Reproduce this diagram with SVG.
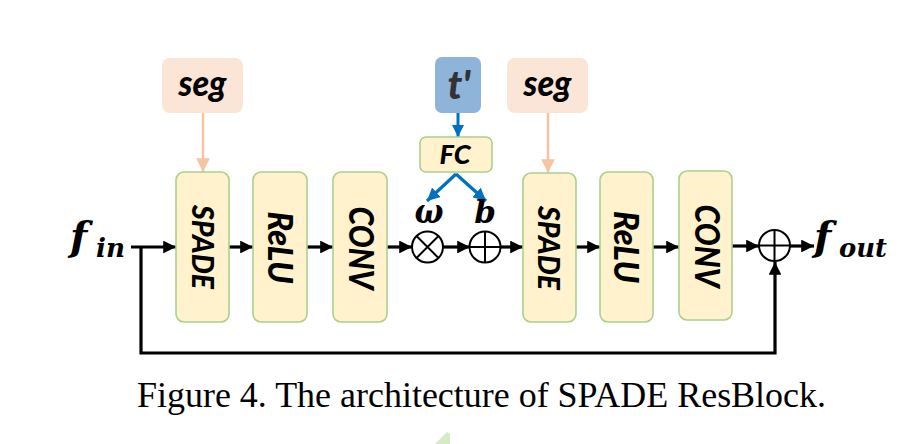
<svg xmlns="http://www.w3.org/2000/svg" width="913" height="444" viewBox="0 0 913 444">
<defs>
<style>
.blk{fill:#fff2cc;stroke:#a9d18e;stroke-width:1.6}
.seg{fill:#fbe5d6}
.lbl{font-family:Lato,"Open Sans","Noto Sans",sans-serif;font-weight:900;font-style:italic;fill:#000}
.ln{stroke:#000;stroke-width:3.2;fill:none}
.op{fill:#fff;stroke:#000;stroke-width:2}
</style>
<marker id="ah" viewBox="0 0 10 10" refX="10" refY="5" markerWidth="4" markerHeight="4" markerUnits="strokeWidth" orient="auto"><path d="M0,0 L10,5 L0,10 z" fill="#000"/></marker>
<marker id="ahb" viewBox="0 0 10 10" refX="10" refY="5" markerWidth="4" markerHeight="4" markerUnits="strokeWidth" orient="auto"><path d="M0,0 L10,5 L0,10 z" fill="#0070c0"/></marker>
<marker id="ahp" viewBox="0 0 10 10" refX="10" refY="5" markerWidth="6" markerHeight="5.5" markerUnits="strokeWidth" orient="auto"><path d="M0,0 L10,5 L0,10 z" fill="#f6c3a3"/></marker>
</defs>
<rect width="913" height="444" fill="#fff"/>

<g id="connectors">
<path class="ln" d="M131,247 H176" marker-end="url(#ah)"/>
<path class="ln" d="M229,247 H253" marker-end="url(#ah)"/>
<path class="ln" d="M307,247 H333" marker-end="url(#ah)"/>
<path class="ln" d="M387,247 H412" marker-end="url(#ah)"/>
<path class="ln" d="M443,247 H470" marker-end="url(#ah)"/>
<path class="ln" d="M500,247 H523" marker-end="url(#ah)"/>
<path class="ln" d="M576,247 H600" marker-end="url(#ah)"/>
<path class="ln" d="M653,247 H679" marker-end="url(#ah)"/>
<path class="ln" d="M732,246 H759" marker-end="url(#ah)"/>
<path class="ln" d="M790,246 H814" marker-end="url(#ah)"/>
<path class="ln" d="M141,247 V353 H775 V262" stroke-width="3.6" marker-end="url(#ah)"/>
<path d="M203,113 V172" stroke="#f6c3a3" stroke-width="2.5" fill="none" marker-end="url(#ahp)"/>
<path d="M548,113 V173" stroke="#f6c3a3" stroke-width="2.5" fill="none" marker-end="url(#ahp)"/>
<path d="M458,113 V137" stroke="#0070c0" stroke-width="3" fill="none" marker-end="url(#ahb)"/>
<path d="M456,174 L427,201" stroke="#0070c0" stroke-width="3.2" fill="none" marker-end="url(#ahb)"/>
<path d="M456,174 L486,201" stroke="#0070c0" stroke-width="3.2" fill="none" marker-end="url(#ahb)"/>
</g>

<g id="seg1"><rect class="seg" x="162" y="58" width="81" height="55" rx="8"/><text class="lbl" x="202.5" y="96" font-size="36" text-anchor="middle" textLength="48" lengthAdjust="spacingAndGlyphs">seg</text></g>
<g id="seg2"><rect class="seg" x="507" y="58" width="81" height="55" rx="8"/><text class="lbl" x="547.5" y="96" font-size="36" text-anchor="middle" textLength="48" lengthAdjust="spacingAndGlyphs">seg</text></g>
<g id="tprime"><rect x="435" y="57" width="46" height="56" rx="7" fill="#8eb4da"/><text class="lbl" x="459" y="99" font-size="40" text-anchor="middle" style="fill:#333">t'</text></g>
<g id="fc"><rect class="blk" x="420" y="137" width="72" height="35" rx="6"/><text class="lbl" x="455" y="164" font-size="27" text-anchor="middle" textLength="31" lengthAdjust="spacingAndGlyphs">FC</text></g>

<g id="spade1"><rect class="blk" x="176" y="172" width="53" height="150" rx="8"/><text class="lbl" transform="translate(192,247) rotate(90)" font-size="31" text-anchor="middle" textLength="84" lengthAdjust="spacingAndGlyphs">SPADE</text></g>
<g id="relu1"><rect class="blk" x="253" y="172" width="54" height="150" rx="8"/><text class="lbl" transform="translate(268,247.5) rotate(90)" font-size="34" text-anchor="middle" textLength="72" lengthAdjust="spacingAndGlyphs">ReLU</text></g>
<g id="conv1"><rect class="blk" x="333" y="172" width="54" height="150" rx="8"/><text class="lbl" transform="translate(349,248) rotate(90)" font-size="34" text-anchor="middle" textLength="83" lengthAdjust="spacingAndGlyphs">CONV</text></g>

<g id="mul"><circle class="op" cx="427.5" cy="247" r="15.5"/><path d="M416.5,236 L438.5,258 M438.5,236 L416.5,258" stroke="#000" stroke-width="2"/></g>
<g id="add1"><circle class="op" cx="485" cy="247" r="15.5"/><path d="M469.5,247 H500.5 M485,231.5 V262.5" stroke="#000" stroke-width="2"/></g>
<text x="429" y="223" font-family="'DejaVu Serif',serif" font-weight="bold" font-style="italic" font-size="36" text-anchor="middle" textLength="29" lengthAdjust="spacingAndGlyphs">ω</text>
<text x="485" y="223" font-family="'DejaVu Serif',serif" font-weight="bold" font-style="italic" font-size="31" text-anchor="middle">b</text>

<g id="spade2"><rect class="blk" x="523" y="173" width="53" height="149" rx="8"/><text class="lbl" transform="translate(538,248) rotate(90)" font-size="31" text-anchor="middle" textLength="84" lengthAdjust="spacingAndGlyphs">SPADE</text></g>
<g id="relu2"><rect class="blk" x="600" y="172" width="53" height="150" rx="8"/><text class="lbl" transform="translate(614,247) rotate(90)" font-size="34" text-anchor="middle" textLength="72" lengthAdjust="spacingAndGlyphs">ReLU</text></g>
<g id="conv2"><rect class="blk" x="679" y="171" width="53" height="149" rx="8"/><text class="lbl" transform="translate(695,246) rotate(90)" font-size="34" text-anchor="middle" textLength="83" lengthAdjust="spacingAndGlyphs">CONV</text></g>

<g id="add2"><circle class="op" cx="774.5" cy="245.5" r="15.5"/><path d="M759,245.5 H790 M774.5,230 V261" stroke="#000" stroke-width="2"/></g>

<g id="fin"><text x="70" y="250" font-family="'DejaVu Serif',serif" font-weight="bold" font-style="italic" font-size="40">f</text><text x="96" y="257" font-family="'DejaVu Serif',serif" font-weight="bold" font-style="italic" font-size="26" textLength="29" lengthAdjust="spacingAndGlyphs">in</text></g>
<g id="fout"><text x="814" y="250" font-family="'DejaVu Serif',serif" font-weight="bold" font-style="italic" font-size="40">f</text><text x="839" y="257" font-family="'DejaVu Serif',serif" font-weight="bold" font-style="italic" font-size="26" textLength="48" lengthAdjust="spacingAndGlyphs">out</text></g>

<text x="137" y="407" font-family="'Liberation Serif','Times New Roman',serif" font-size="35" fill="#000" textLength="689" lengthAdjust="spacingAndGlyphs">Figure 4. The architecture of SPADE ResBlock.</text>
<path d="M435,444 L447,432 L450,434 L450,444 z" fill="#c8e6b8" opacity="0.8"/>
</svg>
